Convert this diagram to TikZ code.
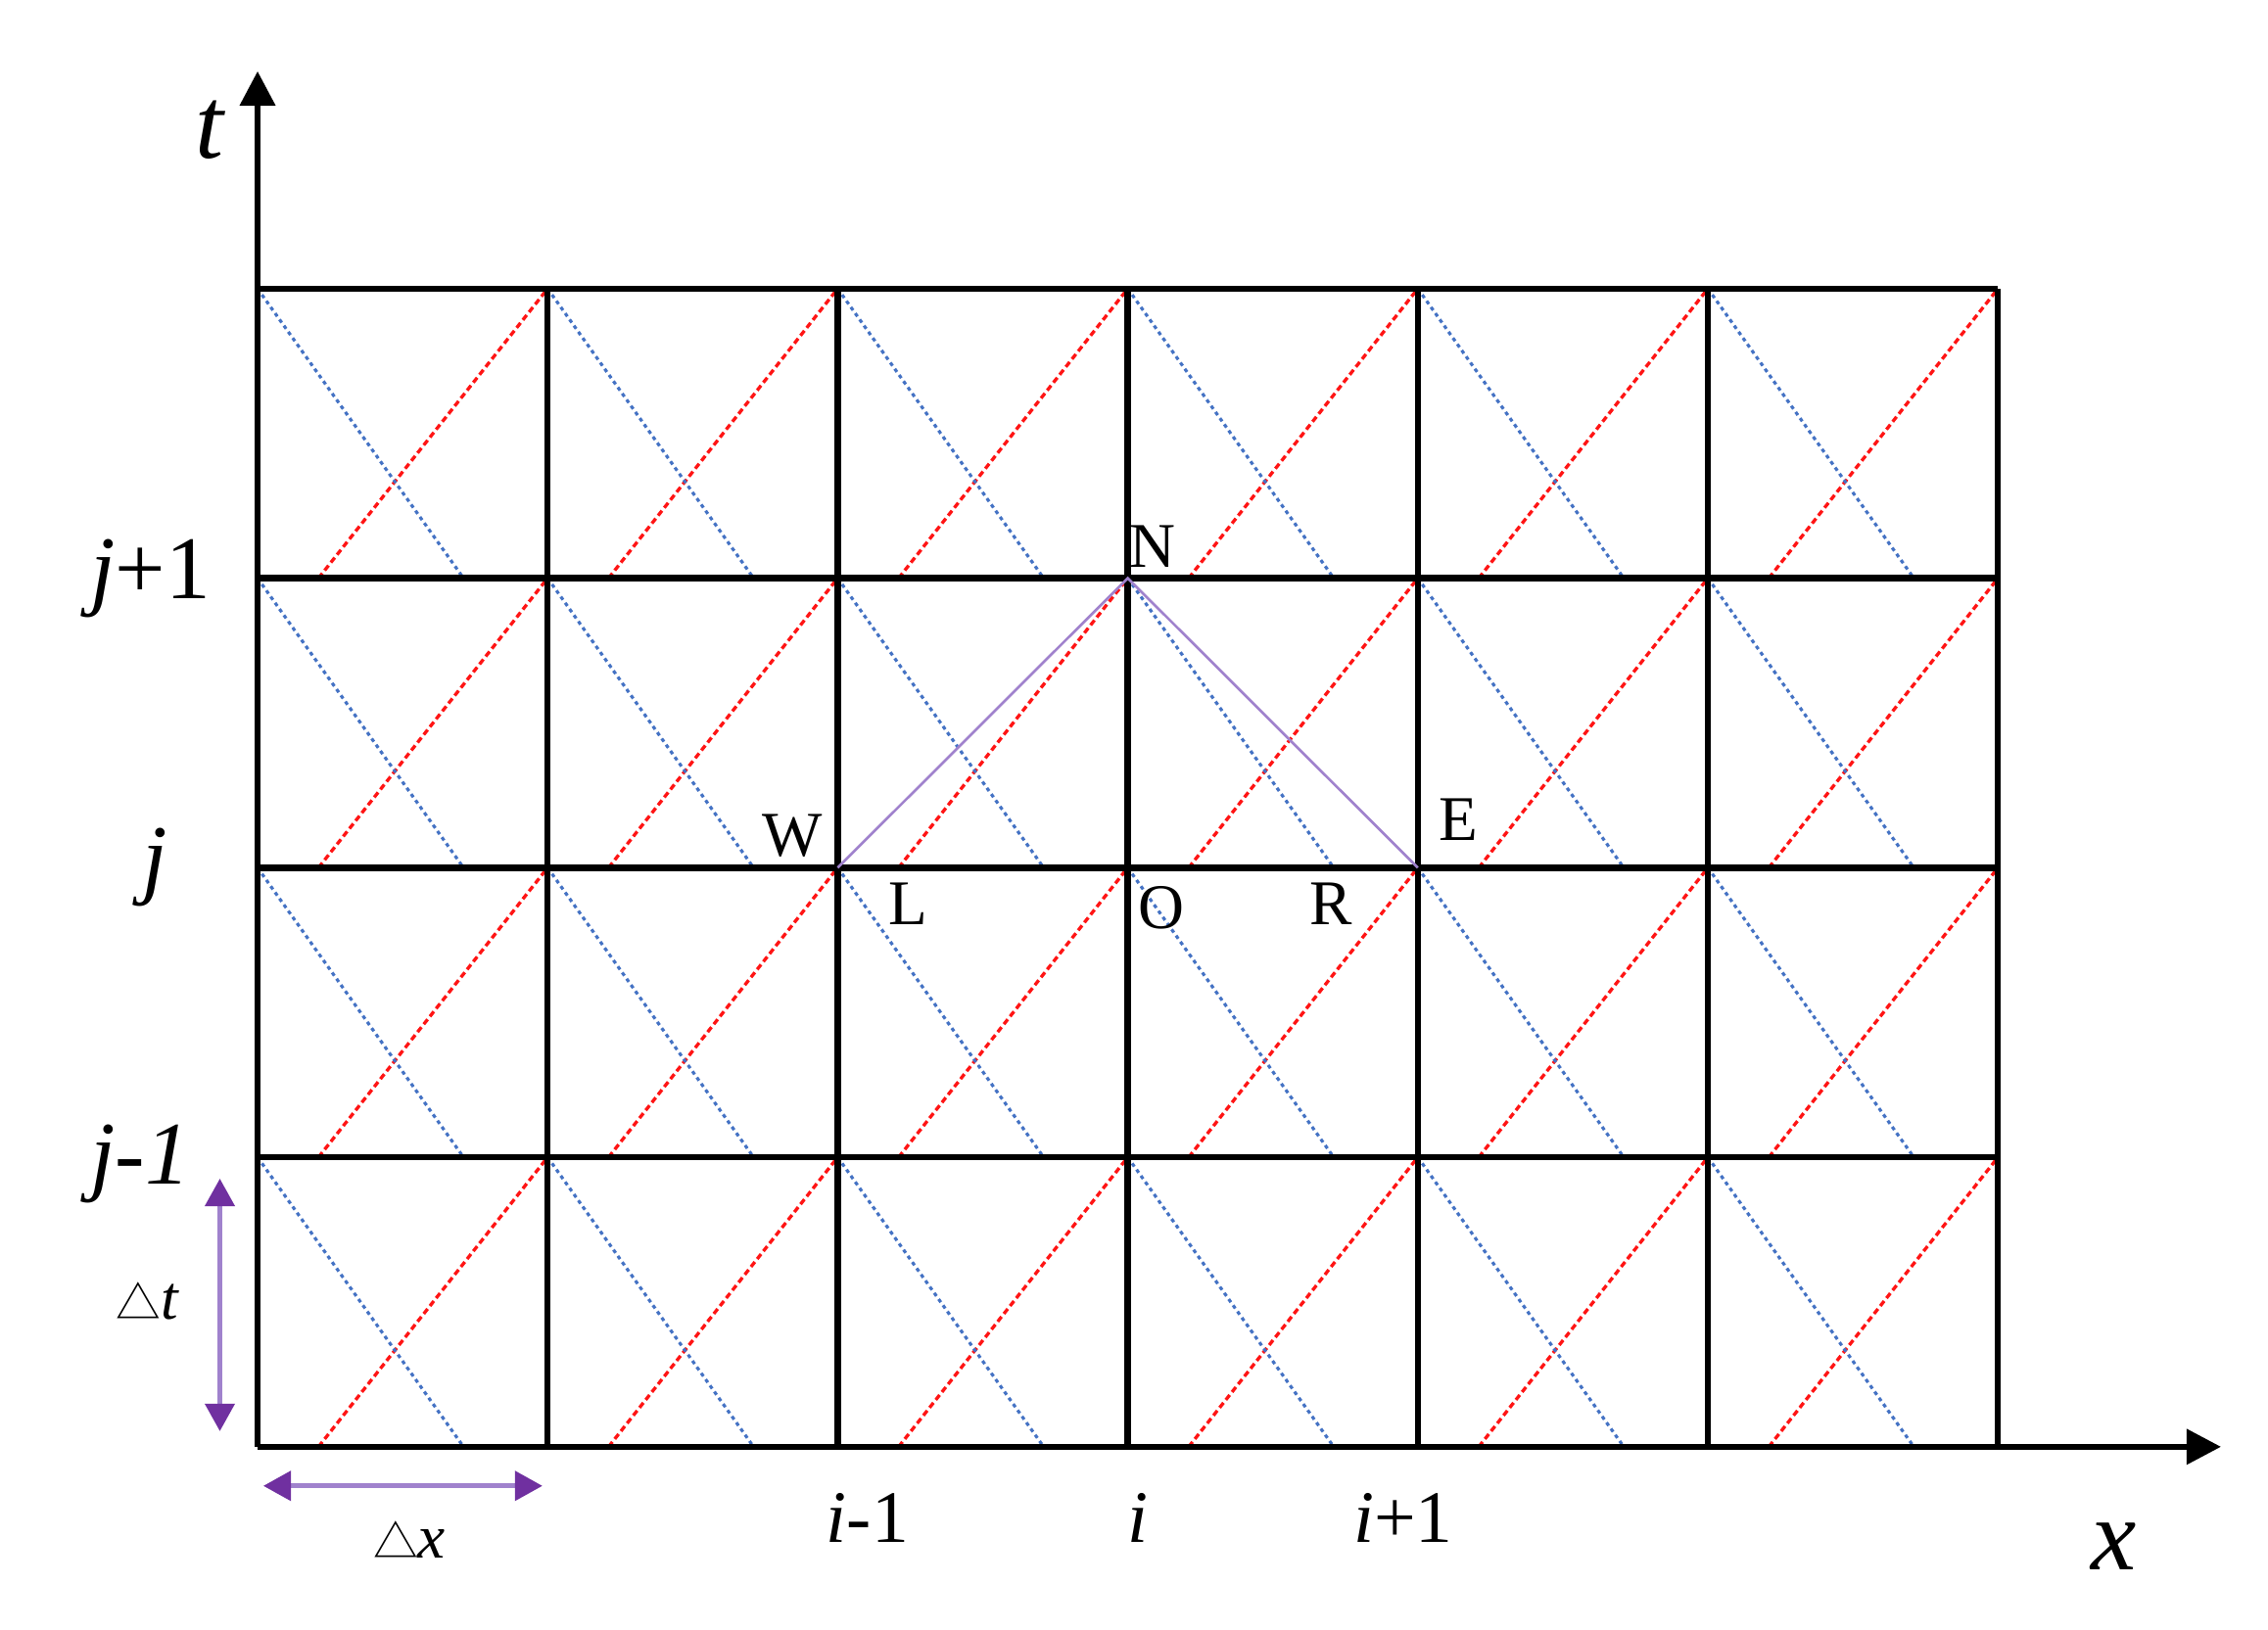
\documentclass[tikz,border=0pt]{standalone}
\usepackage{fontspec}
\setmainfont{Liberation Serif}[ItalicFont={Liberation Serif Italic}]
\newfontfamily\cjk{Noto Sans CJK SC}
\usetikzlibrary{arrows.meta}
\definecolor{gridred}{RGB}{255,20,20}
\definecolor{gridblue}{RGB}{68,114,196}
\definecolor{purpleline}{RGB}{160,130,205}
\definecolor{purplehead}{RGB}{112,48,160}
\begin{document}
\begin{tikzpicture}[x=29.62mm,y=29.575mm]
\tikzset{
 gridline/.style={line width=1.8pt, black},
 redd/.style={gridred, line width=0.95pt, dash pattern=on 1.8pt off 1.1pt},
 blued/.style={gridblue, line width=0.9pt, dash pattern=on 1.1pt off 1.1pt},
 axis/.style={line width=1.8pt, black, -{Triangle[length=10pt,width=10pt]}},
 stencil/.style={purpleline, line width=0.75pt},
 darrow/.style={purpleline, line width=1.3pt, {Triangle[length=8pt,width=8.5pt,color=purplehead]}-{Triangle[length=8pt,width=8.5pt,color=purplehead]}},
 axlabel/.style={font=\fontsize{29.6}{30}\selectfont\itshape, inner sep=0pt},
 idx/.style={font=\fontsize{21.5}{22}\selectfont, inner sep=0pt},
 jdx/.style={font=\fontsize{26}{27}\selectfont, inner sep=0pt},
 ptlabel/.style={font=\fontsize{18.5}{19}\selectfont, inner sep=0pt},
 delta/.style={font=\fontsize{18}{19}\selectfont, inner sep=0pt},
}
\newcommand{\tri}{{\cjk\fontsize{13}{13}\selectfont △}}
\useasboundingbox[fill=white] (-0.888,-0.632) rectangle (6.931,4.997);
% diagonals
\foreach \i in {0,...,5}{
  \foreach \j in {0,...,3}{
    \draw[redd] (\i+0.21,\j) -- (\i+1,\j+1);
    \draw[blued] (\i,\j+1) -- (\i+0.71,\j);
  }
}
% grid
\foreach \i in {0,...,6}{ \draw[gridline] (\i,0) -- (\i,4); }
\foreach \j in {0,...,4}{ \draw[gridline] (0,\j) -- (6,\j); }
% axes
\coordinate (O0) at (0,0);
\coordinate (ttip) at (0,4.751);
\coordinate (xtip) at (6.769,0);
\draw[axis] (O0) -- (ttip);
\draw[axis] (O0) -- (xtip);
% stencil
\coordinate (Wp) at (2,2);
\coordinate (Np) at (3,3);
\coordinate (Ep) at (4,2);
\draw[stencil] (Wp) -- (Np) -- (Ep);
% delta arrows
\coordinate (dta) at (-0.13,0.926);
\coordinate (dtb) at (-0.13,0.054);
\coordinate (dxa) at (0.02,-0.135);
\coordinate (dxb) at (0.982,-0.135);
\draw[darrow] (dta) -- (dtb);
\draw[darrow] (dxa) -- (dxb);
% labels
\node[axlabel] (tl) at (-0.165,4.548) {t};
\node[axlabel] (xl) at (6.401,-0.345) {x};
\node[jdx] (jp1) at (-0.37,2.999) {\textit{j}+1};
\node[jdx] (j0) at (-0.354,2.002) {\textit{j}};
\node[jdx] (jm1) at (-0.405,0.977) {\textit{j-1}};
\node[idx] (im1) at (2.103,-0.247) {\textit{i}-1};
\node[idx] (i0) at (3.035,-0.247) {\textit{i}};
\node[idx] (ip1) at (3.95,-0.247) {\textit{i}+1};
\node[delta] (dtl) at (-0.378,0.504) {\tri\textit{t}};
\node[delta] (dxl) at (0.523,-0.321) {\tri\textit{x}};
\node[ptlabel] (Nl) at (3.086,3.111) {N};
\node[ptlabel] (Wl) at (1.843,2.11) {W};
\node[ptlabel] (El) at (4.139,2.167) {E};
\node[ptlabel] (Ll) at (2.242,1.877) {L};
\node[ptlabel] (Ol) at (3.116,1.863) {O};
\node[ptlabel] (Rl) at (3.70,1.877) {R};
\end{tikzpicture}
\end{document}
